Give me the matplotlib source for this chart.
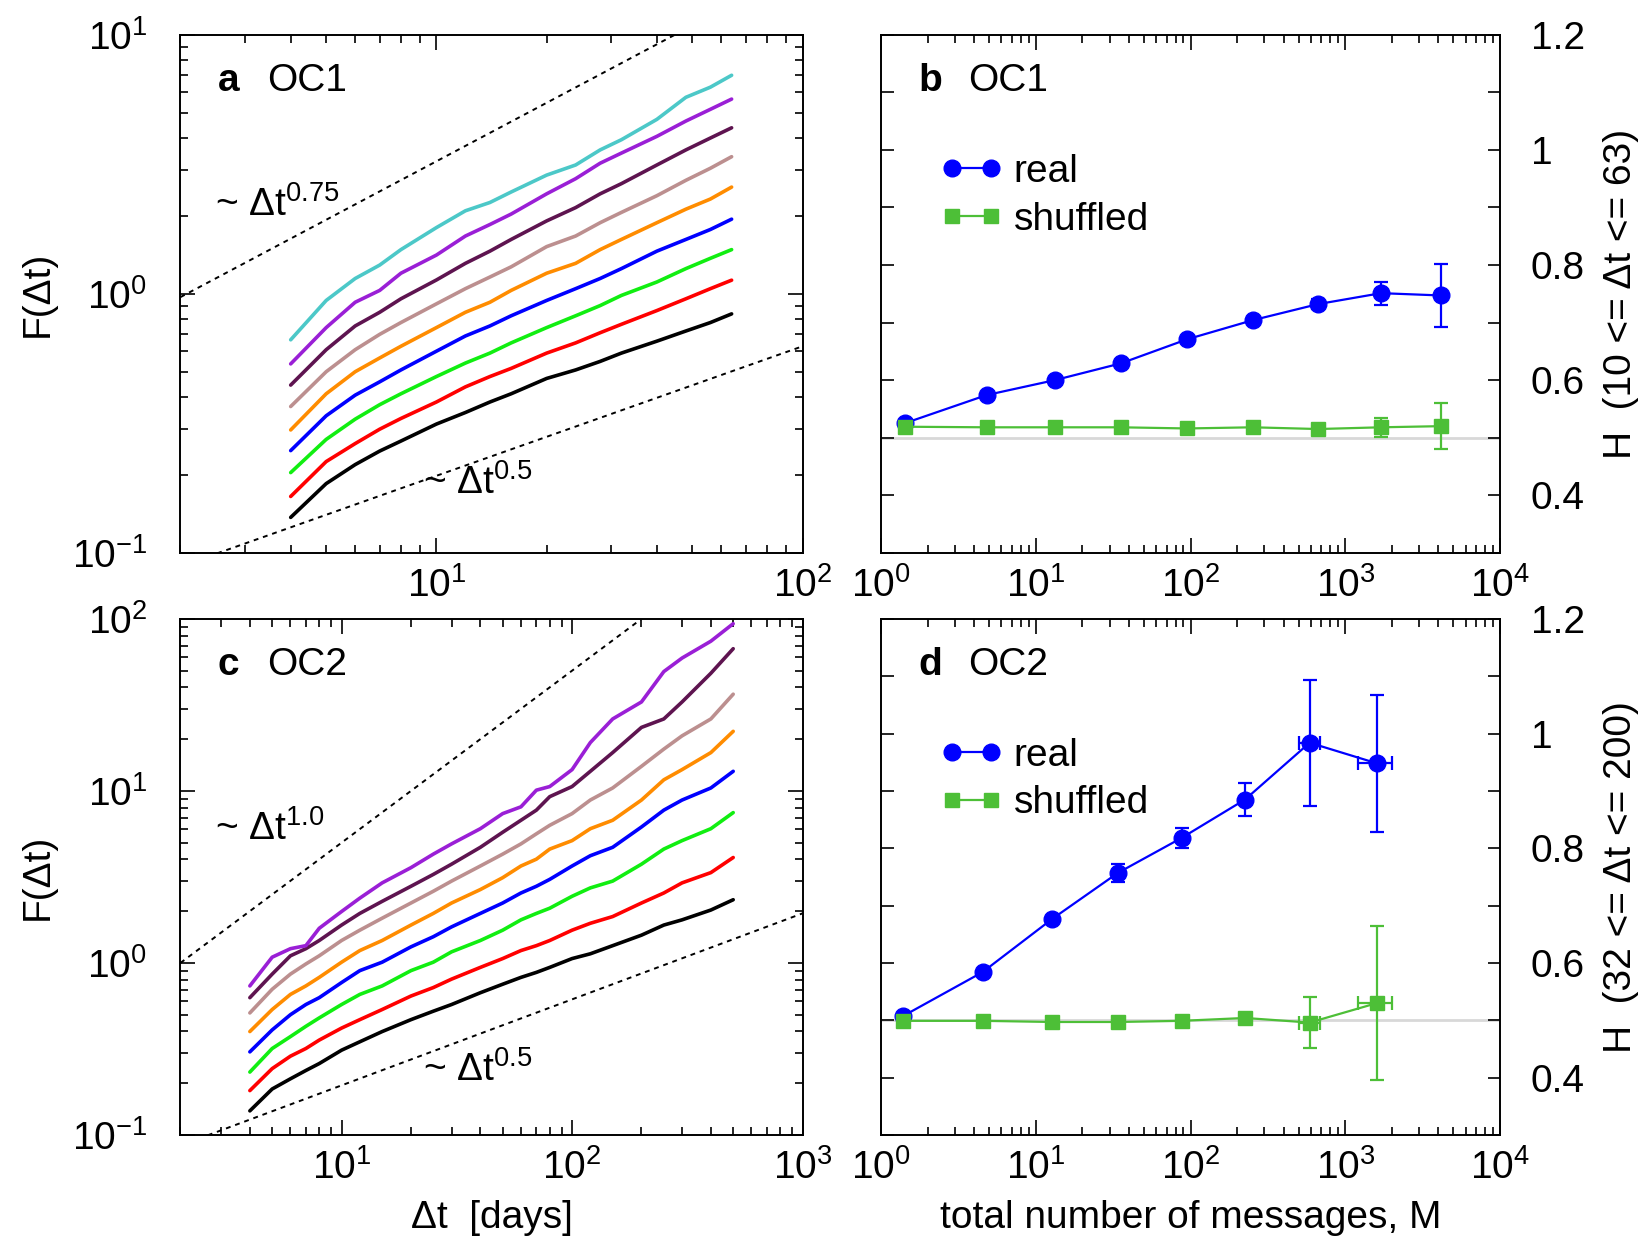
import numpy as np
import matplotlib
matplotlib.use("Agg")
import matplotlib.pyplot as plt
from matplotlib.ticker import LogLocator, NullFormatter, FixedLocator, FuncFormatter

plt.rcParams['font.family'] = ['Liberation Sans', 'DejaVu Sans']
plt.rcParams['mathtext.fontset'] = 'custom'
plt.rcParams['mathtext.rm'] = 'Liberation Sans'
plt.rcParams['mathtext.it'] = 'Liberation Sans'
plt.rcParams['mathtext.bf'] = 'Liberation Sans:bold'

#---------------------------- data ---------------------------------
# panel a (OC1), fluctuation functions, bottom to top
dt_a = [4, 5, 6, 7, 8, 10, 12, 14, 16, 20, 24, 28, 32, 40, 48, 56, 64]
Fa_black = [0.137, 0.185, 0.219, 0.247, 0.270, 0.314, 0.348, 0.382, 0.411, 0.471, 0.508, 0.548, 0.590, 0.656, 0.718, 0.774, 0.836]
Fa_red = [0.165, 0.225, 0.264, 0.300, 0.330, 0.382, 0.437, 0.479, 0.515, 0.590, 0.646, 0.707, 0.762, 0.861, 0.956, 1.046, 1.128]
Fa_green = [0.204, 0.274, 0.328, 0.373, 0.411, 0.479, 0.540, 0.590, 0.646, 0.740, 0.822, 0.900, 0.985, 1.11, 1.25, 1.37, 1.48]
Fa_blue = [0.248, 0.338, 0.406, 0.457, 0.508, 0.600, 0.687, 0.751, 0.822, 0.942, 1.046, 1.145, 1.25, 1.46, 1.62, 1.77, 1.94]
Fa_orange = [0.298, 0.411, 0.500, 0.565, 0.627, 0.740, 0.848, 0.927, 1.03, 1.20, 1.31, 1.48, 1.62, 1.88, 2.12, 2.32, 2.58]
Fa_rosy = [0.367, 0.500, 0.608, 0.697, 0.774, 0.914, 1.046, 1.16, 1.27, 1.52, 1.67, 1.88, 2.06, 2.39, 2.74, 3.05, 3.38]
Fa_plum = [0.444, 0.608, 0.751, 0.848, 0.956, 1.13, 1.31, 1.46, 1.62, 1.91, 2.15, 2.43, 2.66, 3.14, 3.59, 3.99, 4.37]
Fa_violet = [0.536, 0.740, 0.927, 1.03, 1.20, 1.41, 1.67, 1.85, 2.03, 2.43, 2.78, 3.19, 3.49, 4.05, 4.64, 5.15, 5.64]
Fa_cyan = [0.664, 0.942, 1.145, 1.29, 1.48, 1.80, 2.09, 2.25, 2.47, 2.87, 3.14, 3.59, 3.93, 4.71, 5.73, 6.27, 6.97]

# panel c (OC2)
dt_c = [4, 5, 6, 7, 8, 10, 12, 15, 20, 25, 30, 40, 50, 60, 70, 80, 100, 120, 150, 200, 250, 300, 400, 500]
Fc_black = [0.138, 0.185, 0.212, 0.237, 0.260, 0.311, 0.348, 0.399, 0.468, 0.524, 0.573, 0.671, 0.752, 0.824, 0.881, 0.942, 1.06, 1.13, 1.26, 1.45, 1.66, 1.78, 2.03, 2.33]
Fc_red = [0.181, 0.243, 0.287, 0.318, 0.356, 0.418, 0.468, 0.536, 0.642, 0.719, 0.805, 0.942, 1.06, 1.18, 1.26, 1.35, 1.55, 1.70, 1.86, 2.23, 2.55, 2.92, 3.35, 4.10]
Fc_green = [0.232, 0.318, 0.373, 0.428, 0.479, 0.573, 0.656, 0.735, 0.902, 1.01, 1.16, 1.35, 1.55, 1.78, 1.94, 2.08, 2.44, 2.73, 2.99, 3.75, 4.59, 5.14, 6.03, 7.48]
Fc_blue = [0.304, 0.408, 0.500, 0.573, 0.628, 0.769, 0.902, 1.01, 1.24, 1.42, 1.62, 1.94, 2.23, 2.55, 2.79, 3.06, 3.66, 4.20, 4.70, 6.17, 7.73, 8.85, 10.4, 13.0]
Fc_orange = [0.399, 0.536, 0.656, 0.735, 0.824, 1.01, 1.18, 1.35, 1.66, 1.94, 2.23, 2.67, 3.13, 3.66, 4.01, 4.59, 5.14, 6.03, 6.75, 8.85, 11.6, 13.3, 16.7, 22.2]
Fc_rosy = [0.512, 0.703, 0.861, 0.986, 1.10, 1.35, 1.55, 1.82, 2.23, 2.61, 2.99, 3.66, 4.29, 4.92, 5.63, 6.31, 7.38, 8.85, 10.4, 13.9, 17.5, 20.9, 26.2, 36.5]
Fc_plum = [0.628, 0.861, 1.10, 1.21, 1.35, 1.66, 1.94, 2.28, 2.79, 3.27, 3.75, 4.70, 5.75, 6.75, 7.73, 9.26, 10.6, 13.0, 16.7, 23.4, 26.2, 32.9, 48.3, 67.1]
Fc_violet = [0.735, 1.08, 1.21, 1.26, 1.59, 1.99, 2.38, 2.92, 3.58, 4.29, 4.92, 6.03, 7.38, 8.08, 10.1, 10.6, 13.3, 19.1, 26.2, 32.9, 49.4, 59.2, 74.2, 93.8]

# guide lines: (prefactor, exponent, label)
guides_a = [(0.577, 0.75, '0.75'), (0.0627, 0.5, '0.5')]
guides_c = [(0.5, 1.0, '1.0'), (0.0614, 0.5, '0.5')]

# panel b (OC1) Hurst exponents
M_b = [1.42, 4.81, 13.3, 35.4, 95.3, 252, 667, 1702, 4140]
Hreal_b = [0.525, 0.574, 0.600, 0.629, 0.671, 0.704, 0.732, 0.751, 0.747]
Hreal_err_b = [0, 0, 0, 0, 0, 0, 0.009, 0.020, 0.054]
Hshuf_b = [0.519, 0.518, 0.518, 0.518, 0.516, 0.518, 0.515, 0.518, 0.520]
Hshuf_err_b = [0, 0, 0, 0, 0, 0, 0, 0.017, 0.040]

# panel d (OC2)
M_d = [1.38, 4.53, 12.8, 33.9, 87.5, 225, 588, 1603]
M_lo_d = [0, 0, 0, 0, 0, 0, 89, 404]
M_hi_d = [0, 0, 0, 0, 0, 0, 99, 401]
Hreal_d = [0.507, 0.584, 0.677, 0.757, 0.818, 0.885, 0.984, 0.948]
Hreal_err_d = [0, 0, 0, 0.015, 0.018, 0.028, 0.110, 0.120]
Hshuf_d = [0.499, 0.499, 0.497, 0.497, 0.499, 0.504, 0.496, 0.530]
Hshuf_err_d = [0, 0, 0, 0, 0, 0, 0.045, 0.134]

colors_a = ['black', '#ff0000', '#11ee11', '#0000ff', '#ff8c00', '#bc8f8f', '#5e1450', '#9a1fd6', '#4cc8c8']
colors_c = colors_a[:8]
#--------------------------------------------------------------------

fs_tick = 28
fs_lab = 28

fig = plt.figure(figsize=(16.45, 12.42), dpi=100)
ax_a = fig.add_axes([0.1097, 0.5549, 0.3782, 0.4172])
ax_b = fig.add_axes([0.5356, 0.5549, 0.3763, 0.4172])
ax_c = fig.add_axes([0.1097, 0.0862, 0.3782, 0.4155])
ax_d = fig.add_axes([0.5356, 0.0862, 0.3763, 0.4155])


def style_axes(ax):
    for s in ax.spines.values():
        s.set_linewidth(1.4)
    ax.tick_params(which='both', direction='in', top=True, right=True,
                   width=1.2, labelsize=fs_tick)
    ax.tick_params(which='major', length=11)
    ax.tick_params(which='minor', length=6)


def panel_label(ax, letter, name):
    ax.text(0.06, 0.91, letter, transform=ax.transAxes, fontsize=fs_lab,
            fontweight='bold', va='center', ha='left')
    ax.text(0.14, 0.91, name, transform=ax.transAxes, fontsize=fs_lab,
            va='center', ha='left')


#----------------------------- F(dt) panels -------------------------
def fluct_panel(ax, dt, lines, colors, guides, xmax, ymax, guide_pos):
    for F, c in zip(lines, colors):
        ax.plot(dt, F, color=c, lw=2.6, solid_capstyle='round')
    xg = np.array([2.0, xmax])
    for (A, p, lab), (tx, ty) in zip(guides, guide_pos):
        ax.plot(xg, A * xg ** p, color='black', lw=1.4, ls=(0, (2.5, 2.5)))
        ax.text(tx, ty, '~ \u0394t$^{' + lab + '}$', transform=ax.transAxes,
                fontsize=fs_lab, ha='left', va='center')
    ax.set_xscale('log')
    ax.set_yscale('log')
    ax.set_xlim(2, xmax)
    ax.set_ylim(0.1, ymax)
    for axis in (ax.xaxis, ax.yaxis):
        axis.set_major_locator(LogLocator(base=10))
        axis.set_minor_locator(LogLocator(base=10, subs=np.arange(2, 10)))
        axis.set_minor_formatter(NullFormatter())
    style_axes(ax)
    ax.tick_params(axis='y', pad=24)
    ax.tick_params(axis='x', pad=10)
    ax.set_ylabel('F(\u0394t)', fontsize=fs_lab)
    ax.yaxis.set_label_coords(-0.23, 0.5)
    ax.yaxis.label.set_va('center')


fluct_panel(ax_a, dt_a,
            [Fa_black, Fa_red, Fa_green, Fa_blue, Fa_orange, Fa_rosy, Fa_plum, Fa_violet, Fa_cyan],
            colors_a, guides_a, 100, 10, [(0.056, 0.671), (0.39, 0.134)])
panel_label(ax_a, 'a', 'OC1')

fluct_panel(ax_c, dt_c,
            [Fc_black, Fc_red, Fc_green, Fc_blue, Fc_orange, Fc_rosy, Fc_plum, Fc_violet],
            colors_c, guides_c, 1000, 100, [(0.056, 0.593), (0.39, 0.126)])
panel_label(ax_c, 'c', 'OC2')
ax_c.set_xlabel('\u0394t  [days]', fontsize=fs_lab)
ax_c.xaxis.set_label_coords(0.5, -0.16)
ax_c.xaxis.label.set_va('center')


#----------------------------- H panels -----------------------------
def hurst_panel(ax, M, Hr, Hr_err, Hs, Hs_err, label, xerr=None):
    ax.axhline(0.5, color='#d8d8d8', lw=2, zorder=1)
    ax.errorbar(M, Hr, yerr=Hr_err, xerr=xerr, fmt='none', ecolor='#0000ff',
                elinewidth=1.6, capsize=5, capthick=1.6, zorder=2)
    ax.plot(M, Hr, color='#0000ff', lw=1.6, marker='o', ms=12, label='real', zorder=3)
    ax.errorbar(M, Hs, yerr=Hs_err, xerr=xerr, fmt='none', ecolor='#4dbf37',
                elinewidth=1.6, capsize=5, capthick=1.6, zorder=4)
    ax.plot(M, Hs, color='#4dbf37', lw=1.6, marker='s', ms=10, label='shuffled', zorder=5)
    ax.set_xscale('log')
    ax.set_xlim(1, 1e4)
    ax.set_ylim(0.3, 1.2)
    ax.xaxis.set_major_locator(LogLocator(base=10))
    ax.xaxis.set_minor_locator(LogLocator(base=10, subs=np.arange(2, 10)))
    ax.xaxis.set_minor_formatter(NullFormatter())
    ax.yaxis.set_major_locator(FixedLocator(np.arange(0.3, 1.21, 0.1)))
    ax.yaxis.set_major_formatter(FuncFormatter(
        lambda v, pos: ('%g' % round(v, 1)) if round(v * 10) % 2 == 0 else ''))
    style_axes(ax)
    ax.tick_params(axis='y', which='major', length=9, labelleft=False, labelright=True, pad=22)
    ax.tick_params(axis='x', pad=10)
    ax.yaxis.set_label_position('right')
    ax.set_ylabel(label, fontsize=fs_lab, rotation=90)
    ax.yaxis.set_label_coords(1.195, 0.5)
    ax.yaxis.label.set_va('center')
    ax.yaxis.label.set_ha('center')
    ax.legend(loc='upper left', bbox_to_anchor=(0.07, 0.80), frameon=False,
              numpoints=2, handlelength=1.6, handletextpad=0.3, labelspacing=0.3,
              fontsize=fs_lab, borderaxespad=0)


hurst_panel(ax_b, M_b, Hreal_b, Hreal_err_b, Hshuf_b, Hshuf_err_b,
            'H  (10 <= \u0394t <= 63)')
panel_label(ax_b, 'b', 'OC1')

hurst_panel(ax_d, M_d, Hreal_d, Hreal_err_d, Hshuf_d, Hshuf_err_d,
            'H  (32 <= \u0394t <= 200)', xerr=[M_lo_d, M_hi_d])
panel_label(ax_d, 'd', 'OC2')
ax_d.set_xlabel('total number of messages, M', fontsize=fs_lab)
ax_d.xaxis.set_label_coords(0.5, -0.16)
ax_d.xaxis.label.set_va('center')

fig.savefig('out.png', dpi=100)
